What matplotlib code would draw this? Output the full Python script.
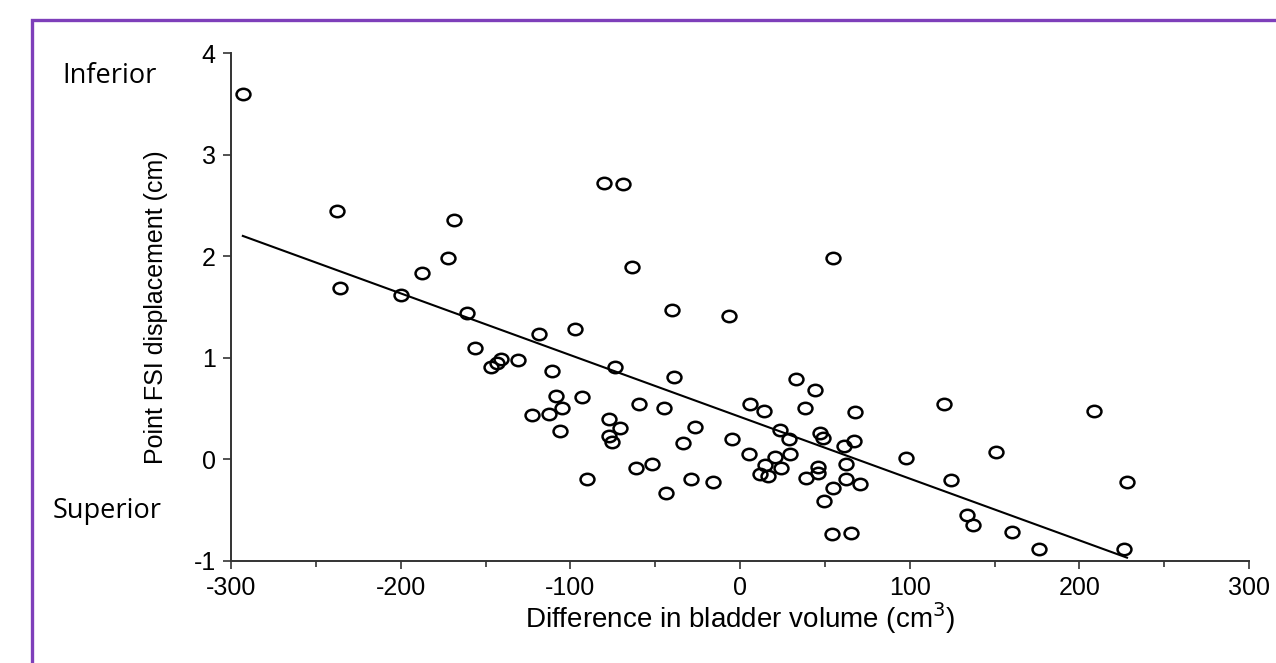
import matplotlib
matplotlib.use("Agg")
import matplotlib.pyplot as plt
from matplotlib.lines import Line2D
from matplotlib.path import Path
from matplotlib.transforms import Affine2D
from matplotlib.ticker import MultipleLocator

plt.rcParams["axes.unicode_minus"] = False

# ── data ────────────────────────────────────────────────────
volume_diff = [
    -293, -237.5, -236, -200, -187.4, -172, -168.5, -161, -156, -147,
    -143, -141, -131, -118.4, -97, -111, -122.6, -112.5, -108.4, -104.9,
    -106, -93, -90, -80, -69, -63.6, -73.7, -77, -77, -75.4,
    -70.7, -59.5, -61.3, -51.9, -44.8, -43.6, -40, -39, -33.6, -28.9,
    -26.5, -15.9, -6.5, -5, 6, 5.3, 14, 14.7, 11.8, 16.5,
    20.6, 23.6, 24, 28.9, 29.5, 33, 38, 39, 44, 46,
    46, 47, 49, 49.5, 54.8, 54, 54.8, 61, 62.5, 62.5,
    65.4, 67, 68, 70.7, 98, 120, 124, 134, 137, 151,
    160, 176, 208.6, 226, 228,
]
fsi_disp = [
    3.60, 2.44, 1.69, 1.62, 1.83, 1.98, 2.36, 1.44, 1.10, 0.91,
    0.95, 0.99, 0.98, 1.23, 1.28, 0.87, 0.44, 0.45, 0.62, 0.51,
    0.28, 0.61, -0.19, 2.72, 2.71, 1.89, 0.91, 0.40, 0.23, 0.17,
    0.31, 0.54, -0.09, -0.05, 0.51, -0.33, 1.47, 0.81, 0.16, -0.19,
    0.32, -0.22, 1.41, 0.20, 0.54, 0.05, 0.48, -0.06, -0.14, -0.16,
    0.02, 0.29, -0.09, 0.20, 0.05, 0.79, 0.51, -0.18, 0.68, -0.08,
    -0.13, 0.26, 0.21, -0.41, 1.98, -0.74, -0.28, 0.13, -0.05, -0.19,
    -0.73, 0.18, 0.47, -0.24, 0.01, 0.54, -0.20, -0.55, -0.65, 0.07,
    -0.72, -0.88, 0.48, -0.88, -0.22,
]

# regression line (as drawn in the reference)
fit_x = [-293, 228]
fit_intercept = 0.418
fit_slope = -0.00608

x_ticks = [-300, -200, -100, 0, 100, 200, 300]
y_ticks = [-1, 0, 1, 2, 3, 4]

BORDER = "#7E3FBA"
AXIS_COL = "#333333"

# slightly wide open circle, like the reference markers
ellipse = Path.unit_circle().transformed(Affine2D().scale(1.22, 1.0))

fig = plt.figure(figsize=(12.76, 6.63), dpi=100)
ax = fig.add_axes([0.181, 0.154, 0.798, 0.766])

ax.plot(volume_diff, fsi_disp, linestyle="none", marker=ellipse,
        markersize=10, markerfacecolor="none", markeredgecolor="black",
        markeredgewidth=1.8, zorder=3)
fit_y = [fit_intercept + fit_slope * v for v in fit_x]
ax.plot(fit_x, fit_y, color="black", linewidth=1.5, zorder=2)

ax.set_xlim(-300, 300)
ax.set_ylim(-1, 4)
ax.set_xticks(x_ticks)
ax.set_yticks(y_ticks)
ax.xaxis.set_minor_locator(MultipleLocator(50))

for side in ("top", "right"):
    ax.spines[side].set_visible(False)
for side in ("left", "bottom"):
    ax.spines[side].set_color(AXIS_COL)
    ax.spines[side].set_linewidth(1.4)

tick_font = ["Liberation Sans", "DejaVu Sans"]
ax.tick_params(axis="both", which="major", direction="out", length=6,
               width=1.2, color=AXIS_COL, labelsize=18, pad=5)
ax.tick_params(axis="x", which="minor", direction="out", length=4,
               width=1.2, color=AXIS_COL)
for lab in ax.get_xticklabels() + ax.get_yticklabels():
    lab.set_family(tick_font)

ax.set_xlabel("Difference in bladder volume (cm$^3$)", fontsize=20,
              family=tick_font, labelpad=0)
ax.set_ylabel("Point FSI displacement (cm)", fontsize=18, family=tick_font)
ax.yaxis.set_label_coords(-0.062, 0.5)

side_font = ["Open Sans", "DejaVu Sans"]
fig.text(62 / 1276, 1 - 76 / 663, "Inferior", fontsize=19.5,
         family=side_font, va="center", ha="left")
fig.text(53 / 1276, 1 - 511 / 663, "Superior", fontsize=19.5,
         family=side_font, va="center", ha="left")

# purple frame (left and top edges visible)
bx = 32 / 1276
by = 1 - 20 / 663
fig.add_artist(Line2D([bx, bx, 1.0], [0.0, by, by], color=BORDER,
                      linewidth=2.4, transform=fig.transFigure,
                      solid_joinstyle="miter"))

fig.savefig("out.png", dpi=100)
